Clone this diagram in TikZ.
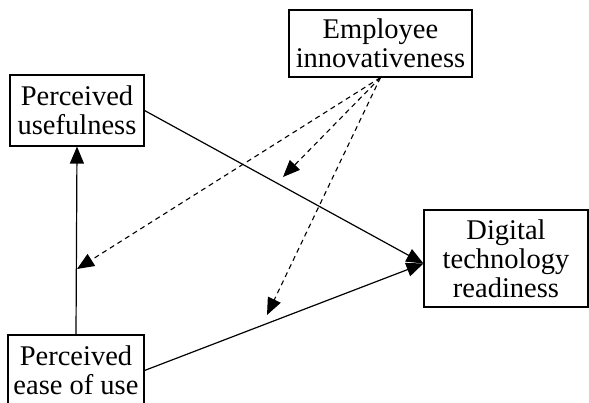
\documentclass[tikz,border=0pt]{standalone}
\usepackage{fontspec}
\setmainfont{Liberation Serif}
\usetikzlibrary{arrows.meta}
\begin{document}
\begin{tikzpicture}[x=1pt,y=1pt,
  every node/.style={font=\fontsize{28.5}{29}\selectfont},
  construct/.style={draw,line width=1.1pt,inner sep=0pt,align=center,anchor=center},
  path/.style={line width=1.2pt,-{Triangle[length=17pt,width=14pt]}},
  moderation/.style={line width=1.1pt,dash pattern=on 5pt off 4pt,-{Triangle[length=17pt,width=14pt]}}]
  \useasboundingbox (0,0) rectangle (589,-403);

  % constructs
  \node[construct,minimum width=183pt,minimum height=67pt] (emp) at (380.5,-43.5) {Employee\\innovativeness};
  \node[construct,minimum width=134pt,minimum height=71pt] (use) at (77,-110.5) {Perceived\\usefulness};
  \node[construct,minimum width=136pt,minimum height=71pt] (ease) at (76,-370.5) {Perceived\\ease of use};
  \node[construct,minimum width=164pt,minimum height=97pt] (dig) at (506,-258.5) {Digital\\technology\\readiness};

  % targets of the paths
  \coordinate (dt) at ([yshift=-5pt]dig.west);
  \coordinate (m1) at (283,-177);
  \coordinate (m2) at (77,-269);
  \coordinate (m3) at (267,-315);

  % direct effects
  \draw[path] (ease.north) -- (use.south);
  \draw[path] (use.east) -- (dt);
  \draw[path] (ease.east) -- (dt);

  % moderating effects
  \draw[moderation] (emp.south) -- (m1);
  \draw[moderation] (emp.south) -- (m2);
  \draw[moderation] (emp.south) -- (m3);
\end{tikzpicture}
\end{document}
